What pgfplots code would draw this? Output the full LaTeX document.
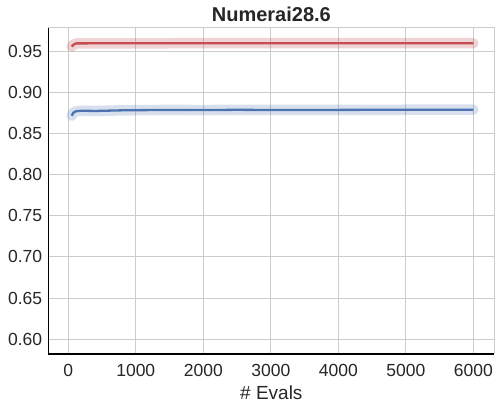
\documentclass[border=0pt]{standalone}
\usepackage{pgfplots}
\pgfplotsset{compat=1.18}
\usepackage{fontspec}
\setmainfont{Liberation Sans}
\definecolor{sred}{RGB}{196,78,82}
\definecolor{sblue}{RGB}{76,114,176}
\definecolor{gridc}{RGB}{204,204,204}
\definecolor{txt}{RGB}{38,38,38}
\begin{document}
\begin{tikzpicture}
\begin{axis}[
  name=ax,
  scale only axis,
  width=445.3pt, height=326pt,
  xmin=-290, xmax=6307,
  ymin=0.582, ymax=0.978,
  xtick={0,1000,2000,3000,4000,5000,6000},
  ytick={0.60,0.65,0.70,0.75,0.80,0.85,0.90,0.95},
  yticklabel style={xshift=-3pt,/pgf/number format/.cd,fixed,fixed zerofill,precision=2},
  xticklabel style={yshift=-7pt,/pgf/number format/.cd,set thousands separator={}},
  /pgf/number format/assume math mode=true,
  tick label style={font=\fontsize{17.5}{20}\selectfont, text=txt},
  major tick length=0pt,
  grid=major,
  major grid style={gridc, line width=0.9pt},
  axis line style={gridc, line width=1pt},
  xlabel={\# Evals},
  xlabel style={font=\fontsize{19}{22}\selectfont, text=txt, yshift=-2pt},
  title={\textbf{Numerai28.6}},
  title style={font=\fontsize{20}{23}\selectfont, text=txt, yshift=-3pt},
  clip=false,
]
\addplot[sred, opacity=0.25, line width=10.5pt, line cap=round, line join=round] coordinates {
(50,0.9555)(80,0.9580)(120,0.9593)(500,0.9594)(2000,0.9595)(6000,0.9595)};
\addplot[sblue, opacity=0.22, line width=10.5pt, line cap=round, line join=round] coordinates {
(50,0.8715)(80,0.8755)(120,0.8770)(200,0.8775)(400,0.8772)(800,0.8780)(1500,0.8785)(2000,0.8783)(2500,0.8786)(3000,0.8784)(4000,0.8785)(5000,0.8787)(6000,0.8787)};
\addplot[sred, line width=2.3pt, line join=round] coordinates {
(50,0.9555)(80,0.9580)(120,0.9593)(500,0.9594)(2000,0.9595)(6000,0.9595)};
\addplot[sblue, line width=2.3pt, line join=round] coordinates {
(50,0.8715)(80,0.8755)(120,0.8770)(200,0.8775)(400,0.8772)(800,0.8780)(1500,0.8785)(2000,0.8783)(2500,0.8786)(3000,0.8784)(4000,0.8785)(5000,0.8787)(6000,0.8787)};
\draw[black, line width=1.3pt] (rel axis cs:0,1) -- (rel axis cs:0,0) -- (rel axis cs:1,0);
\end{axis}
\pgfresetboundingbox
\path[use as bounding box] ([xshift=-48.7pt,yshift=-54pt]ax.south west) rectangle ([xshift=7pt,yshift=28pt]ax.north east);
\end{tikzpicture}
\end{document}
